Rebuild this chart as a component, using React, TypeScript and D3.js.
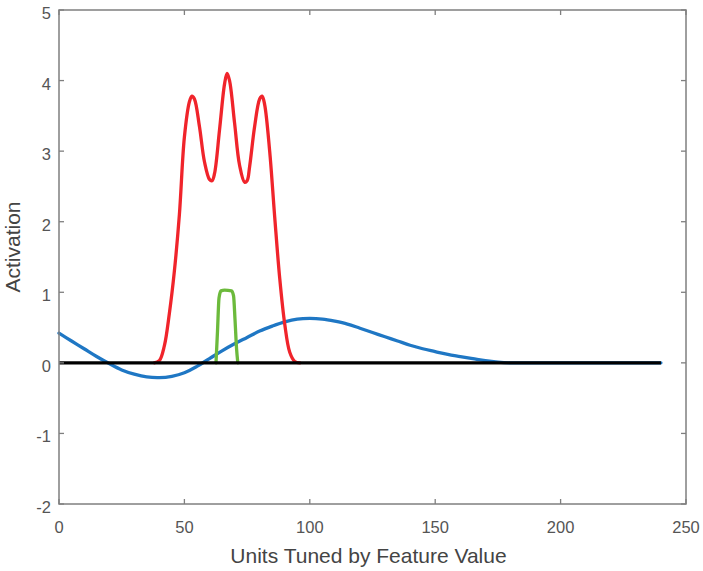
import * as d3 from 'd3';
import React from 'react';

// tick values
const xTicks = [0, 50, 100, 150, 200, 250];
const yTicks = [-2, -1, 0, 1, 2, 3, 4, 5];

// blue: broad tuning curve
const blueX = [0, 5, 10, 15, 20, 25, 30, 35, 40, 45, 50, 55, 60, 65, 70, 75, 80, 85, 90, 95, 100, 105, 110, 115, 120, 125, 130, 135, 140, 145, 150, 155, 160, 165, 170, 175, 180, 190, 240];
const blueY = [0.42, 0.31, 0.2, 0.09, -0.01, -0.1, -0.16, -0.2, -0.21, -0.19, -0.14, -0.05, 0.06, 0.17, 0.27, 0.36, 0.45, 0.52, 0.58, 0.62, 0.63, 0.62, 0.59, 0.55, 0.49, 0.43, 0.37, 0.31, 0.25, 0.2, 0.16, 0.12, 0.09, 0.06, 0.03, 0.01, 0, 0, 0];

// red: three-peaked activation
const redX = [38, 40, 42, 44, 46, 48, 50, 52, 53, 54, 56, 58, 60, 61, 62, 64, 66, 67, 68, 70, 72, 74, 75, 76, 78, 80, 81, 82, 84, 86, 88, 90, 92, 94, 96];
const redY = [0, 0.03, 0.24, 0.7, 1.3, 2.1, 3.2, 3.7, 3.78, 3.74, 3.35, 2.85, 2.6, 2.58, 2.68, 3.3, 3.95, 4.1, 4.0, 3.4, 2.8, 2.56, 2.58, 2.78, 3.35, 3.74, 3.78, 3.66, 3.0, 2.07, 1.2, 0.55, 0.15, 0.02, 0];

// green: narrow plateau
const greenX = [62.6, 63.2, 63.8, 64.6, 66, 68.8, 69.6, 70.2, 70.8, 71.3];
const greenY = [0, 0.45, 0.92, 1.02, 1.03, 1.02, 0.95, 0.6, 0.2, 0];

// black zero line
const zeroX = [0, 240];
const zeroY = [0, 0];

const width = 703;
const height = 571;
const marginLeft = 59;
const marginRight = 17;
const marginTop = 10;
const marginBottom = 67;

const font = '"Liberation Sans", Arial, sans-serif';

export default function App() {
  const x = d3.scaleLinear([0, 250], [marginLeft, width - marginRight]);
  const y = d3.scaleLinear([-2, 5], [height - marginBottom, marginTop]);

  const makeLine = (curve: d3.CurveFactory) =>
    d3
      .line<[number, number]>()
      .x((d) => x(d[0]))
      .y((d) => y(d[1]))
      .curve(curve);

  const smooth = makeLine(d3.curveCatmullRom.alpha(0.5));
  const mono = makeLine(d3.curveMonotoneX);

  const zip = (xs: number[], ys: number[]) => xs.map((v, i) => [v, ys[i]] as [number, number]);

  const x0 = x.range()[0];
  const x1 = x.range()[1];
  const y0 = y.range()[0];
  const y1 = y.range()[1];
  const tickLen = 5;
  const axisColor = '#7f7f7f';
  const textColor = '#555';

  return (
    <svg width={width} height={height} style={{ position: 'absolute', left: 0, top: 0, background: '#fff' }}>
      {/* data lines */}
      <g fill="none" strokeWidth={3.3} strokeLinejoin="round" strokeLinecap="round">
        <path d={smooth(zip(blueX, blueY)) ?? ''} stroke="#1f77c4" />
        <path d={smooth(zip(redX, redY)) ?? ''} stroke="#f0242b" />
        <path d={mono(zip(greenX, greenY)) ?? ''} stroke="#6cba3c" />
        <path d={mono(zip(zeroX, zeroY)) ?? ''} stroke="#000" strokeLinecap="butt" />
      </g>

      {/* box */}
      <rect x={x0} y={y1} width={x1 - x0} height={y0 - y1} fill="none" stroke={axisColor} strokeWidth={1.5} />

      {/* ticks */}
      <g stroke={axisColor} strokeWidth={1.3}>
        {xTicks.map((t) => (
          <g key={'xt' + t}>
            <line x1={x(t)} x2={x(t)} y1={y0} y2={y0 - tickLen} />
            <line x1={x(t)} x2={x(t)} y1={y1} y2={y1 + tickLen} />
          </g>
        ))}
        {yTicks.map((t) => (
          <g key={'yt' + t}>
            <line x1={x0} x2={x0 + tickLen} y1={y(t)} y2={y(t)} />
            <line x1={x1} x2={x1 - tickLen} y1={y(t)} y2={y(t)} />
          </g>
        ))}
      </g>

      {/* tick labels */}
      <g fill={textColor} fontFamily={font} fontSize={16.5}>
        {xTicks.map((t) => (
          <text key={'xl' + t} x={x(t)} y={y0 + 29} textAnchor="middle">
            {t}
          </text>
        ))}
        {yTicks.map((t) => (
          <text key={'yl' + t} x={x0 - 8} y={y(t) + 9} textAnchor="end">
            {t}
          </text>
        ))}
      </g>

      {/* axis labels */}
      <text x={(x0 + x1) / 2 - 4} y={563} textAnchor="middle" fontFamily={font} fontSize={21} fill="#444">
        Units Tuned by Feature Value
      </text>
      <text
        transform={`translate(20,${(y0 + y1) / 2 - 10}) rotate(-90)`}
        textAnchor="middle"
        fontFamily={font}
        fontSize={21}
        fill="#444"
      >
        Activation
      </text>
    </svg>
  );
}
